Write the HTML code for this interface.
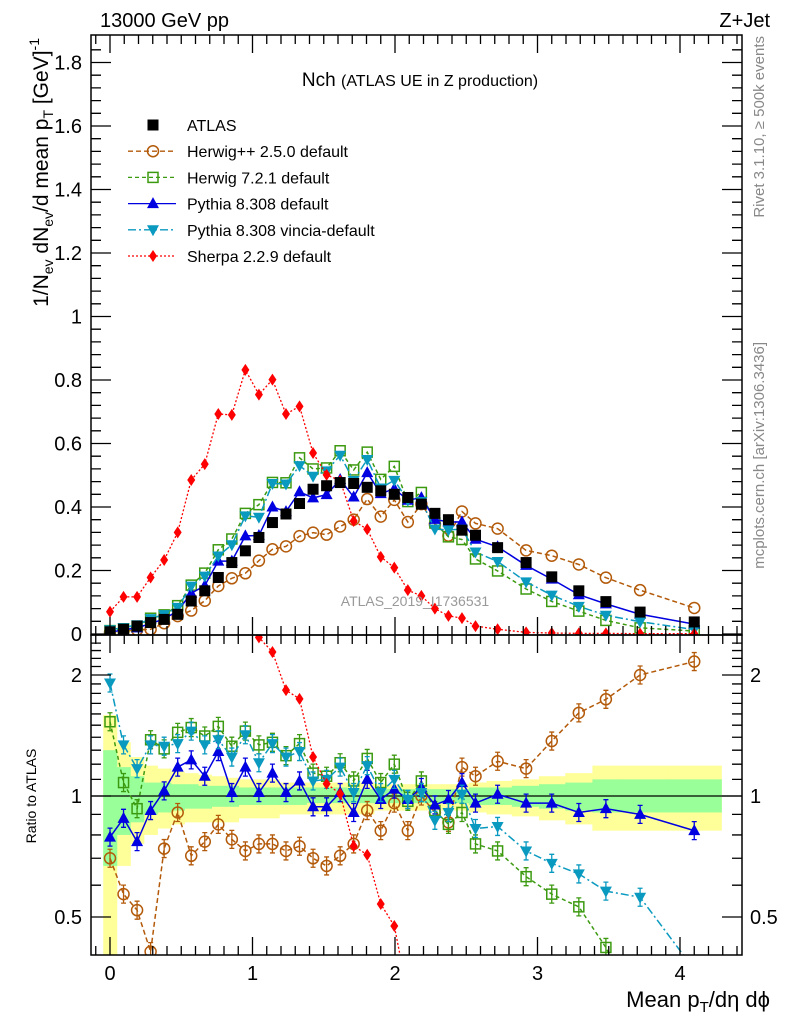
<!DOCTYPE html>
<html><head><meta charset="utf-8">
<style>
html,body{margin:0;padding:0;background:#fff;overflow:hidden;}
svg{display:block;font-family:"Liberation Sans",sans-serif;}
</style></head>
<body>
<svg id="chart" width="786" height="1024" viewBox="0 0 786 1024" xmlns="http://www.w3.org/2000/svg">
<defs>
<clipPath id="clipMain"><rect x="91" y="35" width="651" height="600"/></clipPath>
<clipPath id="clipRatio"><rect x="91" y="635" width="651" height="320"/></clipPath>
</defs>
<g id="bands" clip-path="url(#clipRatio)"></g>
<g id="marksMain" clip-path="url(#clipMain)"></g>
<g id="marksRatio" clip-path="url(#clipRatio)"></g>
<g id="axes"></g>
<text x="100" y="27" font-size="20">13000 GeV pp</text>
<text x="770" y="27" font-size="20" text-anchor="end">Z+Jet</text>
<text x="420" y="86" font-size="19" text-anchor="middle">Nch <tspan font-size="16">(ATLAS UE in Z production)</tspan></text>
<text x="415" y="606" font-size="14" fill="#999" text-anchor="middle">ATLAS_2019_I1736531</text>
<text transform="translate(764,36) rotate(-90)" font-size="15" fill="#888" text-anchor="end">Rivet 3.1.10, ≥ 500k events</text>
<text transform="translate(764,342) rotate(-90)" font-size="15" fill="#888" text-anchor="end">mcplots.cern.ch [arXiv:1306.3436]</text>
<text transform="translate(48,38) rotate(-90)" font-size="21" text-anchor="end">1/N<tspan font-size="14" dy="5">ev</tspan><tspan dy="-5"> dN</tspan><tspan font-size="14" dy="5">ev</tspan><tspan dy="-5">/d mean p</tspan><tspan font-size="14" dy="5">T</tspan><tspan dy="-5"> [GeV]</tspan><tspan font-size="14" dy="-9">-1</tspan></text>
<text transform="translate(36,796) rotate(-90)" font-size="14" text-anchor="middle">Ratio to ATLAS</text>
<text x="770" y="1007" font-size="22" text-anchor="end">Mean p<tspan font-size="15" dy="5">T</tspan><tspan dy="-5">/dη dϕ</tspan></text>
<g id="legend"></g>
</svg>
<script>
const xVals=[0,0.095,0.19,0.285,0.38,0.475,0.57,0.665,0.76,0.855,0.95,1.045,1.14,1.235,1.33,1.425,1.52,1.615,1.71,1.805,1.9,1.995,2.09,2.185,2.28,2.375,2.47,2.565,2.72,2.92,3.1,3.29,3.48,3.72,4.1];
const atlasVals=[0.007,0.015,0.025,0.036,0.046,0.062,0.104,0.136,0.178,0.225,0.262,0.304,0.351,0.378,0.411,0.456,0.467,0.477,0.474,0.462,0.451,0.44,0.43,0.409,0.38,0.36,0.327,0.311,0.272,0.225,0.18,0.136,0.102,0.069,0.038];
const herwigPPRatio=[0.70,0.57,0.52,0.41,0.74,0.91,0.71,0.77,0.85,0.78,0.73,0.76,0.76,0.73,0.75,0.70,0.67,0.71,0.76,0.92,0.82,0.96,0.82,1.0,0.91,0.86,1.18,1.12,1.22,1.17,1.37,1.61,1.74,2.0,2.16];
const herwig7Ratio=[1.53,1.08,0.93,1.38,1.31,1.44,1.48,1.41,1.49,1.33,1.45,1.34,1.36,1.26,1.35,1.14,1.12,1.21,1.09,1.24,1.08,1.20,0.97,1.09,0.92,0.85,0.91,0.76,0.73,0.63,0.57,0.53,0.42,0.28,0.25];
const pythiaRatio=[0.79,0.88,0.77,0.92,1.03,1.18,1.23,1.12,1.29,1.02,1.18,1.02,1.14,1.02,1.09,0.94,0.94,1.02,0.91,1.10,0.98,1.04,0.98,1.05,0.95,0.98,1.08,0.96,1.01,0.96,0.96,0.91,0.93,0.90,0.82];
const vinciaRatio=[1.91,1.34,1.17,1.34,1.33,1.35,1.45,1.34,1.38,1.25,1.42,1.21,1.35,1.25,1.29,1.09,1.10,1.18,1.02,1.19,1.02,1.10,0.98,1.02,0.87,0.91,1.01,0.83,0.84,0.73,0.68,0.64,0.58,0.56,0.37];
const sherpaVals=[0.070,0.117,0.117,0.178,0.233,0.320,0.485,0.535,0.693,0.690,0.832,0.754,0.801,0.693,0.717,0.570,0.501,0.483,0.356,0.330,0.243,0.209,0.138,0.12,0.08,0.057,0.05,0.025,0.015,0.005,0.003,0.002,0.002,0.001,0.001];
const yellowHi=[1.59,1.36,1.25,1.19,1.17,1.15,1.14,1.13,1.12,1.11,1.10,1.10,1.10,1.08,1.08,1.08,1.08,1.08,1.08,1.08,1.07,1.07,1.07,1.07,1.07,1.07,1.07,1.08,1.09,1.10,1.12,1.14,1.19,1.19,1.19];
const yellowLo=[0.38,0.67,0.76,0.80,0.83,0.85,0.86,0.86,0.86,0.86,0.88,0.88,0.88,0.90,0.90,0.90,0.90,0.90,0.90,0.90,0.92,0.92,0.92,0.92,0.92,0.92,0.92,0.91,0.90,0.89,0.87,0.85,0.82,0.82,0.82];
const greenHi=[1.30,1.18,1.12,1.08,1.08,1.07,1.07,1.06,1.06,1.06,1.05,1.05,1.05,1.05,1.05,1.05,1.05,1.05,1.04,1.04,1.04,1.04,1.04,1.04,1.04,1.04,1.04,1.05,1.05,1.06,1.07,1.08,1.10,1.10,1.10];
const greenLo=[0.67,0.80,0.86,0.90,0.91,0.92,0.93,0.93,0.94,0.94,0.95,0.95,0.95,0.95,0.95,0.96,0.96,0.96,0.96,0.96,0.96,0.96,0.96,0.96,0.96,0.96,0.96,0.95,0.95,0.94,0.93,0.92,0.91,0.91,0.91];
const yTickLabels=["0","0.2","0.4","0.6","0.8","1","1.2","1.4","1.6","1.8"];
const xTickLabels=["0","1","2","3","4"];
const ratioTickLabels=["0.5","1","2"];

const NS="http://www.w3.org/2000/svg";
const X0=91,X1=742,MT=35,MB=635,RB=955;
function sx(v){return 110+v*142.5;}
function sy(v){return 634-v*317.5;}
function sr(r){return 796-402*Math.log10(r);}
function mk(tag,attrs,parent){const e=document.createElementNS(NS,tag);for(const k in attrs)e.setAttribute(k,attrs[k]);parent.appendChild(e);return e;}
const axes=document.getElementById('axes');
const gM=document.getElementById('marksMain');
const gR=document.getElementById('marksRatio');
const gB=document.getElementById('bands');

function edges(i){const l=i===0?xVals[0]-(xVals[1]-xVals[0])/2:(xVals[i-1]+xVals[i])/2;const r=i===xVals.length-1?xVals[i]+(xVals[i]-xVals[i-1])/2:(xVals[i]+xVals[i+1])/2;return [sx(l),sx(r)];}
for(let i=0;i<xVals.length;i++){const [a,b]=edges(i);
 const y=mk('rect',{x:a,y:sr(yellowHi[i]),width:b-a+0.5,height:sr(yellowLo[i])-sr(yellowHi[i]),fill:'#ffff99'},gB);
 
 }
for(let i=0;i<xVals.length;i++){const [a,b]=edges(i);
 const g=mk('rect',{x:a,y:sr(greenHi[i]),width:b-a+0.5,height:sr(greenLo[i])-sr(greenHi[i]),fill:'#99ff99'},gB);
 
 }
const one=mk('line',{x1:X0,x2:X1,y1:sr(1),y2:sr(1),stroke:'#000','stroke-width':1.2},gB);



function marker(type,x,y,color,parent){
 if(type==='sq')return mk('rect',{x:x-5.5,y:y-5.5,width:11,height:11,fill:'#000'},parent);
 if(type==='circ')return mk('circle',{cx:x,cy:y,r:5.5,fill:'#fff','fill-opacity':0,stroke:color,'stroke-width':1.5},parent);
 if(type==='osq')return mk('rect',{x:x-5,y:y-5,width:10,height:10,fill:'none',stroke:color,'stroke-width':1.5},parent);
 if(type==='up')return mk('polygon',{points:`${x},${y-6.5} ${x-6},${y+4.5} ${x+6},${y+4.5}`,fill:color},parent);
 if(type==='down')return mk('polygon',{points:`${x},${y+6.5} ${x-6},${y-4.5} ${x+6},${y-4.5}`,fill:color},parent);
 if(type==='dia')return mk('polygon',{points:`${x},${y-6} ${x-4},${y} ${x},${y+6} ${x+4},${y}`,fill:color},parent);
}
const series=[
 {name:'herwigpp',ratio:herwigPPRatio,color:'#b35a0a',dash:'5,3',type:'circ',w:1.5},
 {name:'herwig7',ratio:herwig7Ratio,color:'#3c9a10',dash:'4,3',type:'osq',w:1.5},
 {name:'pythia',ratio:pythiaRatio,color:'#0000e0',dash:'',type:'up',w:1.5},
 {name:'vincia',ratio:vinciaRatio,color:'#0a9ac0',dash:'8,3,2,3',type:'down',w:1.5},
];
function drawSeries(name,mainV,ratioV,color,dash,type,w){
 const pm=xVals.map((x,i)=>sx(x)+','+sy(mainV[i])).join(' ');
 const l1=mk('polyline',{points:pm,fill:'none',stroke:color,'stroke-width':w,'stroke-dasharray':dash},gM);
 
 
 const pr=xVals.map((x,i)=>sx(x)+','+sr(ratioV[i])).join(' ');
 const l2=mk('polyline',{points:pr,fill:'none',stroke:color,'stroke-width':w,'stroke-dasharray':dash},gR);
 
 
 xVals.forEach((x,i)=>{
  const m=marker(type,sx(x),sy(mainV[i]),color,gM);
  
  
  const yy=sr(ratioV[i]);
  if(type!=='dia'){const e=mk('path',{d:`M${sx(x)},${yy-9}V${yy+9}M${sx(x)-2.5},${yy-9}h5M${sx(x)-2.5},${yy+9}h5`,stroke:color,'stroke-width':1.3,fill:'none'},gR);
   
   }
  const r=marker(type,sx(x),yy,color,gR);
  
  
 });
}
series.forEach(s=>drawSeries(s.name,s.ratio.map((r,i)=>r*atlasVals[i]),s.ratio,s.color,s.dash,s.type,s.w));
drawSeries('sherpa',sherpaVals,sherpaVals.map((v,i)=>v/atlasVals[i]),'#ff0000','2,2','dia',1.3);
xVals.forEach((x,i)=>{
 const m=marker('sq',sx(x),sy(atlasVals[i]),'#000',gM);
 
 
});

[[MT,MB],[MB,RB]].forEach(([t,b],k)=>{
 const f=mk('rect',{x:X0,y:t,width:X1-X0,height:b-t,fill:'none',stroke:'#000','stroke-width':1.5},axes);
 
 
});
let tk='';
for(let v=-0.1;v<=4.4;v+=0.1){const x=sx(v);const major=Math.abs(v-Math.round(v))<1e-6;const L=major?18:9;
 tk+=`M${x},${MB}v${-L}M${x},${MT}v${L}M${x},${RB}v${-L}M${x},${MB}v${L}`;}
for(let v=0;v<=1.88;v+=0.04){const y=sy(v);const major=Math.abs(v/0.2-Math.round(v/0.2))<1e-6;const L=major?20:10;
 tk+=`M${X0},${y}h${L}M${X1},${y}h${-L}`;}
for(let r=0.4;r<=2.5;r+=0.1){const y=sr(r);if(y<MB||y>RB)continue;const major=[0.5,1,2].some(m=>Math.abs(m-r)<1e-6);const L=major?20:10;
 tk+=`M${X0},${y}h${L}M${X1},${y}h${-L}`;}
const tp=mk('path',{d:tk,stroke:'#000','stroke-width':1.3,fill:'none'},axes);


yTickLabels.forEach((t,i)=>{const e=mk('text',{x:82,y:sy(i*0.2)+7,'font-size':20,'text-anchor':'end'},axes);e.textContent=t;
 
 });
xTickLabels.forEach((t,i)=>{const e=mk('text',{x:sx(i),y:980,'font-size':20,'text-anchor':'middle'},axes);e.textContent=t;
 
 });
ratioTickLabels.forEach(t=>{const y=sr(parseFloat(t))+7;
 const a=mk('text',{x:82,y:y,'font-size':20,'text-anchor':'end'},axes);a.textContent=t;
 
 
 const b=mk('text',{x:750,y:y,'font-size':20},axes);b.textContent=t;
 
 });

const lg=document.getElementById('legend');
const legendItems=[['ATLAS','sq','#000',''],['Herwig++ 2.5.0 default','circ','#b35a0a','5,3'],['Herwig 7.2.1 default','osq','#3c9a10','4,3'],['Pythia 8.308 default','up','#0000e0',''],['Pythia 8.308 vincia-default','down','#0a9ac0','8,3,2,3'],['Sherpa 2.2.9 default','dia','#ff0000','2,2']];
legendItems.forEach((it,i)=>{const y=125+i*26.2;
 if(i>0){const l=mk('line',{x1:128,x2:176,y1:y,y2:y,stroke:it[2],'stroke-width':1.3,'stroke-dasharray':it[3]},lg);
  
  }
 const m=marker(it[1],153,y,it[2],lg);
 
 
 const t=mk('text',{x:187,y:y+6,'font-size':16},lg);t.textContent=it[0];
 
 });
</script>
</body></html>
